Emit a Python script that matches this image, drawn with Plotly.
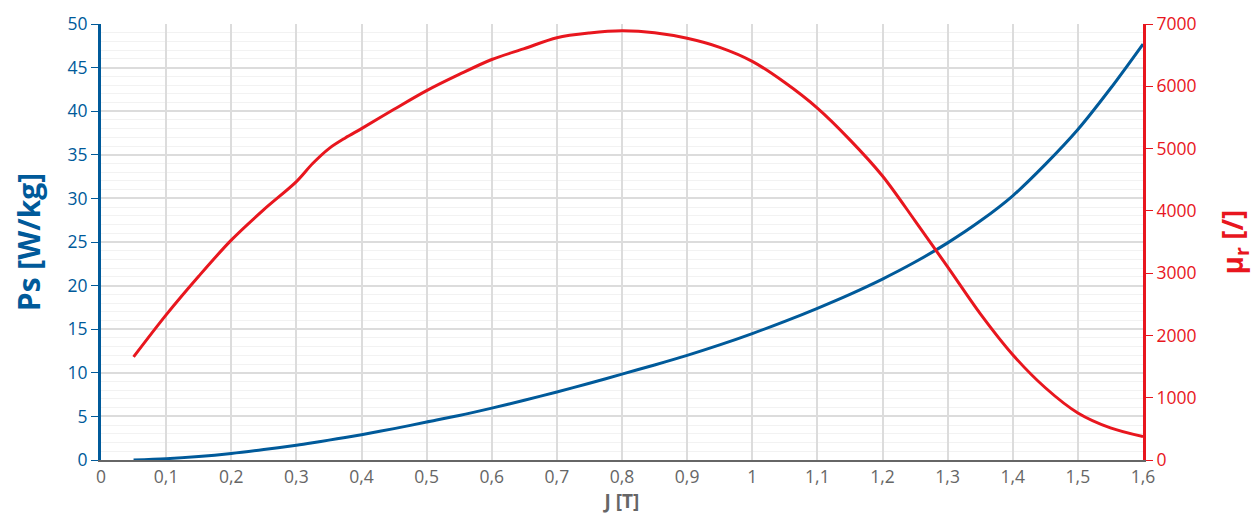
import plotly.graph_objects as go

J = [0.05, 0.1, 0.15, 0.2, 0.25, 0.3, 0.325, 0.35, 0.375, 0.4, 0.45, 0.5, 0.55, 0.6, 0.65,
     0.7, 0.75, 0.8, 0.85, 0.9, 0.95, 1.0, 1.05, 1.1, 1.15, 1.2, 1.25, 1.3, 1.35,
     1.4, 1.45, 1.5, 1.55, 1.6]
Ps = [0.0, 0.15, 0.4, 0.75, 1.2, 1.7, 1.98, 2.28, 2.58, 2.9, 3.6, 4.35, 5.1, 5.95, 6.85,
      7.8, 8.8, 9.85, 10.9, 12.0, 13.2, 14.5, 15.9, 17.4, 19.0, 20.75, 22.7, 24.9, 27.4,
      30.3, 33.9, 37.9, 42.6, 47.7]
mu_r = [1655, 2330, 2950, 3530, 4020, 4470, 4760, 5000, 5170, 5320, 5630, 5930, 6190, 6430, 6605,
        6780, 6855, 6890, 6860, 6770, 6625, 6400, 6060, 5650, 5140, 4560, 3840, 3100, 2350,
        1690, 1160, 755, 515, 375]

x_tickvals = [0, 0.1, 0.2, 0.3, 0.4, 0.5, 0.6, 0.7, 0.8, 0.9, 1.0, 1.1, 1.2, 1.3, 1.4, 1.5, 1.6]
x_ticktext = ["0", "0,1", "0,2", "0,3", "0,4", "0,5", "0,6", "0,7", "0,8", "0,9",
              "1", "1,1", "1,2", "1,3", "1,4", "1,5", "1,6"]

BLUE = "#005a9a"
RED = "#e8161e"
FONT = "Open Sans"

fig = go.Figure()
fig.add_trace(go.Scatter(x=J, y=Ps, mode="lines",
                         line=dict(color=BLUE, width=3, shape="spline", smoothing=0.9),
                         name="Ps", yaxis="y"))
fig.add_trace(go.Scatter(x=J, y=mu_r, mode="lines",
                         line=dict(color=RED, width=3, shape="spline", smoothing=0.9),
                         name="mu_r", yaxis="y2"))

fig.update_layout(
    width=1258, height=519,
    margin=dict(l=101, r=115, t=24, b=59),
    paper_bgcolor="white", plot_bgcolor="white",
    showlegend=False,
    font=dict(family=FONT, size=17),
    xaxis=dict(
        range=[0, 1.6], tickvals=x_tickvals, ticktext=x_ticktext,
        showgrid=True, gridcolor="#dcdcdc", gridwidth=2,
        showline=True, linecolor="#666666", linewidth=2,
        ticks="", tickfont=dict(color="#666666", size=17.5, family=FONT),
        zeroline=False,
        title=dict(text="<b>J [T]</b>", font=dict(color="#666666", size=19, family=FONT), standoff=2),
    ),
    yaxis=dict(
        range=[0, 50], dtick=5, tick0=0,
        showgrid=True, gridcolor="#dcdcdc", gridwidth=2,
        minor=dict(dtick=1, showgrid=True, gridcolor="#f2f2f2", gridwidth=1, ticks=""),
        showline=True, linecolor=BLUE, linewidth=3,
        ticks="outside", ticklen=7, tickcolor=BLUE, tickwidth=1,
        tickfont=dict(color=BLUE, size=17.5, family=FONT),
        zeroline=False,
        title=dict(text="<b>Ps [W/kg]</b>", font=dict(color=BLUE, size=30, family=FONT), standoff=18),
    ),
    yaxis2=dict(
        range=[0, 7000], dtick=1000, tick0=0,
        overlaying="y", side="right",
        showgrid=False, zeroline=False,
        showline=True, linecolor=RED, linewidth=3,
        ticks="outside", ticklen=7, tickcolor=RED, tickwidth=1,
        tickfont=dict(color=RED, size=17.5, family=FONT),
        title=dict(text="<b>μ<sub>r</sub> [/]</b>", font=dict(color=RED, size=28, family=FONT), standoff=28),
    ),
)

fig.write_html("out.html", config={"displayModeBar": False},
               post_script="document.body.style.margin='0px';")
